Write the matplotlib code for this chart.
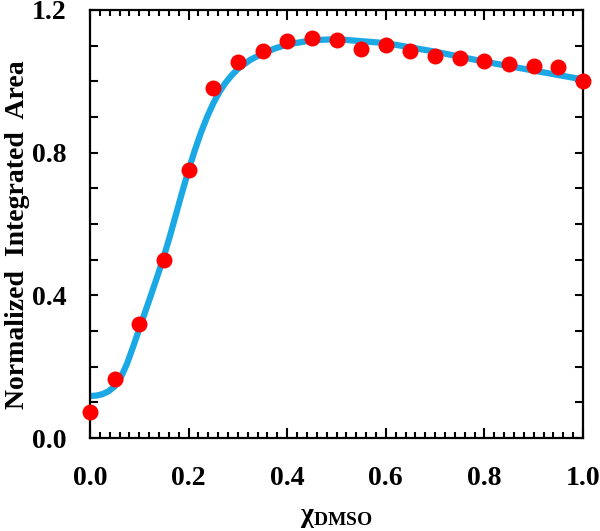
import numpy as np
import matplotlib
matplotlib.use("Agg")
import matplotlib.pyplot as plt
from matplotlib.ticker import MultipleLocator

# measured points (red dots)
x_dmso = [0.0, 0.05, 0.10, 0.15, 0.20, 0.25, 0.30, 0.35, 0.40, 0.45, 0.50,
          0.55, 0.60, 0.65, 0.70, 0.75, 0.80, 0.85, 0.90, 0.95, 1.0]
area = [0.074, 0.165, 0.319, 0.499, 0.751, 0.982, 1.055, 1.085, 1.114, 1.120, 1.116,
        1.090, 1.102, 1.086, 1.070, 1.065, 1.057, 1.048, 1.043, 1.040, 1.000]

# fitted curve (blue)
x_fit = [0.0, 0.0125, 0.025, 0.0375, 0.05, 0.0625, 0.075, 0.0875, 0.10, 0.1125,
         0.125, 0.1375, 0.15, 0.1625, 0.175, 0.1875, 0.20, 0.2125, 0.225, 0.2375,
         0.25, 0.2625, 0.275, 0.2875, 0.30, 0.325, 0.35, 0.375, 0.40, 0.45, 0.50,
         0.60, 0.70, 0.80, 0.90, 1.0]
y_fit = [0.118, 0.119, 0.123, 0.131, 0.145, 0.170, 0.208, 0.256, 0.306, 0.356,
         0.406, 0.457, 0.510, 0.568, 0.630, 0.692, 0.752, 0.806, 0.856, 0.900,
         0.938, 0.970, 0.996, 1.017, 1.035, 1.060, 1.078, 1.092, 1.103, 1.115,
         1.118, 1.107, 1.083, 1.055, 1.030, 1.005]

plt.rcParams['font.family'] = ['Liberation Serif', 'DejaVu Serif']
plt.rcParams['font.weight'] = 'bold'
plt.rcParams['mathtext.fontset'] = 'custom'
plt.rcParams['mathtext.rm'] = 'Liberation Serif:bold'
plt.rcParams['mathtext.bf'] = 'Liberation Serif:bold'
plt.rcParams['mathtext.it'] = 'Liberation Serif:bold'

fig = plt.figure(figsize=(6.0, 5.31), dpi=100)
ax = fig.add_axes([0.15, 0.175, 0.8217, 0.8063])

ax.plot(x_fit, y_fit, color='#1BA9E6', lw=4.5, solid_capstyle='butt', zorder=2)
ax.plot(x_dmso, area, 'o', color='#FF0000', ms=11.5, mec='none', clip_on=False, zorder=5)

ax.set_xlim(0, 1.0)
ax.set_ylim(0, 1.2)
ax.xaxis.set_major_locator(MultipleLocator(0.2))
ax.xaxis.set_minor_locator(MultipleLocator(0.02))
ax.yaxis.set_major_locator(MultipleLocator(0.4))
ax.yaxis.set_minor_locator(MultipleLocator(0.1))
ax.xaxis.set_major_formatter(plt.FormatStrFormatter('%.1f'))
ax.yaxis.set_major_formatter(plt.FormatStrFormatter('%.1f'))

for s in ax.spines.values():
    s.set_linewidth(1.6)
ax.tick_params(which='both', direction='in', top=True, right=True, width=1.5, labelsize=20)
ax.tick_params(axis='x', which='major', length=7, pad=20)
ax.tick_params(axis='x', which='minor', length=4.5)
ax.tick_params(axis='y', which='both', length=6, pad=17)

ax.set_xlabel('χ$_{\\mathrm{DMSO}}$', fontsize=20, fontweight='bold', labelpad=10)
ax.set_ylabel('Normalized  Integrated  Area', fontsize=20, fontweight='bold')
ax.yaxis.set_label_coords(-0.122, 0.475)

fig.savefig('out.png', dpi=100)
